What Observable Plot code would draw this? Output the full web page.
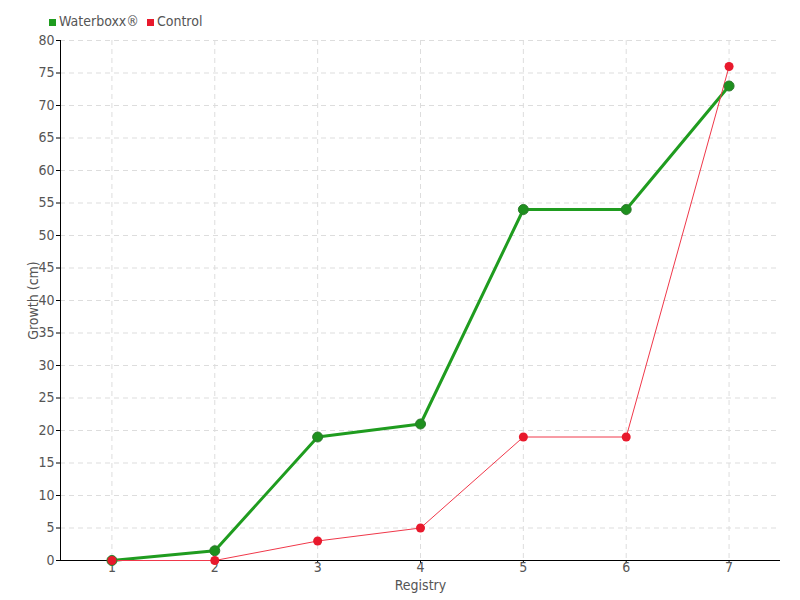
<!DOCTYPE html>
<html>
<head>
<meta charset="utf-8">
<script src="https://cdn.jsdelivr.net/npm/d3@7"></script>
<script src="https://cdn.jsdelivr.net/npm/@observablehq/plot@0.6"></script>
<style>
  body { margin: 0; background: #fff; }
  #wrap { position: relative; width: 800px; height: 600px; font-family: "Liberation Sans Narrow", "DejaVu Sans Condensed", sans-serif; }
  #legend { position: absolute; top: 13px; left: 49px; font-size: 14px; color: #555; display: flex; gap: 8px; align-items: center; }
  #legend span.sw { display: inline-block; width: 7px; height: 7px; margin-right: 3px; vertical-align: middle; }
</style>
</head>
<body>
<div id="wrap">
  <div id="legend"></div>
  <div id="chart"></div>
</div>
<script>
const registry = [1, 2, 3, 4, 5, 6, 7];
const waterboxx = [0, 1.5, 19, 21, 54, 54, 73];
const control = [0, 0, 3, 5, 19, 19, 76];
const seriesNames = ["Waterboxx®", "Control"];
const seriesColors = ["#1f9c1f", "#e8192c"];
const yTicks = d3.range(0, 85, 5);

const wData = registry.map((r, i) => ({ x: r, y: waterboxx[i] }));
const cData = registry.map((r, i) => ({ x: r, y: control[i] }));

const legend = document.getElementById("legend");
seriesNames.forEach((n, i) => {
  const item = document.createElement("span");
  item.innerHTML = `<span class="sw" style="background:${seriesColors[i]}"></span>${n}`;
  legend.appendChild(item);
});

const chart = Plot.plot({
  width: 800,
  height: 600,
  marginLeft: 60,
  marginRight: 20,
  marginTop: 40,
  marginBottom: 40,
  style: { fontFamily: "Liberation Sans Narrow, DejaVu Sans Condensed, sans-serif", fontSize: "14px", color: "#555", background: "#fff" },
  x: { domain: [0.5, 7.5] },
  y: { domain: [0, 80] },
  marks: [
    Plot.gridY(yTicks.filter(d => d > 0), { stroke: "#ddd", strokeOpacity: 1, strokeDasharray: "5,4" }),
    Plot.gridX(registry, { stroke: "#ddd", strokeOpacity: 1, strokeDasharray: "5,4" }),
    Plot.axisY(yTicks, { tickSize: 4, tickPadding: 2, fontSize: 14, fill: "#555", stroke: "#000", label: null }),
    Plot.axisX(registry, { tickSize: 3, tickPadding: -1, fontSize: 14, fill: "#555", stroke: "#000", label: null }),
    Plot.ruleX([0.5], { stroke: "#000" }),
    Plot.ruleY([0], { stroke: "#000" }),
    Plot.text(["Registry"], { x: 4, y: 0, dy: 25, fill: "#555", fontSize: 14 }),
    Plot.text(["Growth (cm)"], { x: 0.5, y: 40, dx: -27, rotate: -90, fill: "#555", fontSize: 14 }),
    Plot.line(wData, { x: "x", y: "y", stroke: seriesColors[0], strokeWidth: 3 }),
    Plot.line(cData, { x: "x", y: "y", stroke: "#f0384a", strokeWidth: 1 }),
    Plot.dot(wData, { x: "x", y: "y", r: 5, fill: "#1e901e", stroke: "#2c7a2c", strokeWidth: 1 }),
    Plot.dot(cData, { x: "x", y: "y", r: 4.5, fill: seriesColors[1], stroke: "none" })
  ]
});
document.getElementById("chart").appendChild(chart);
</script>
</body>
</html>
